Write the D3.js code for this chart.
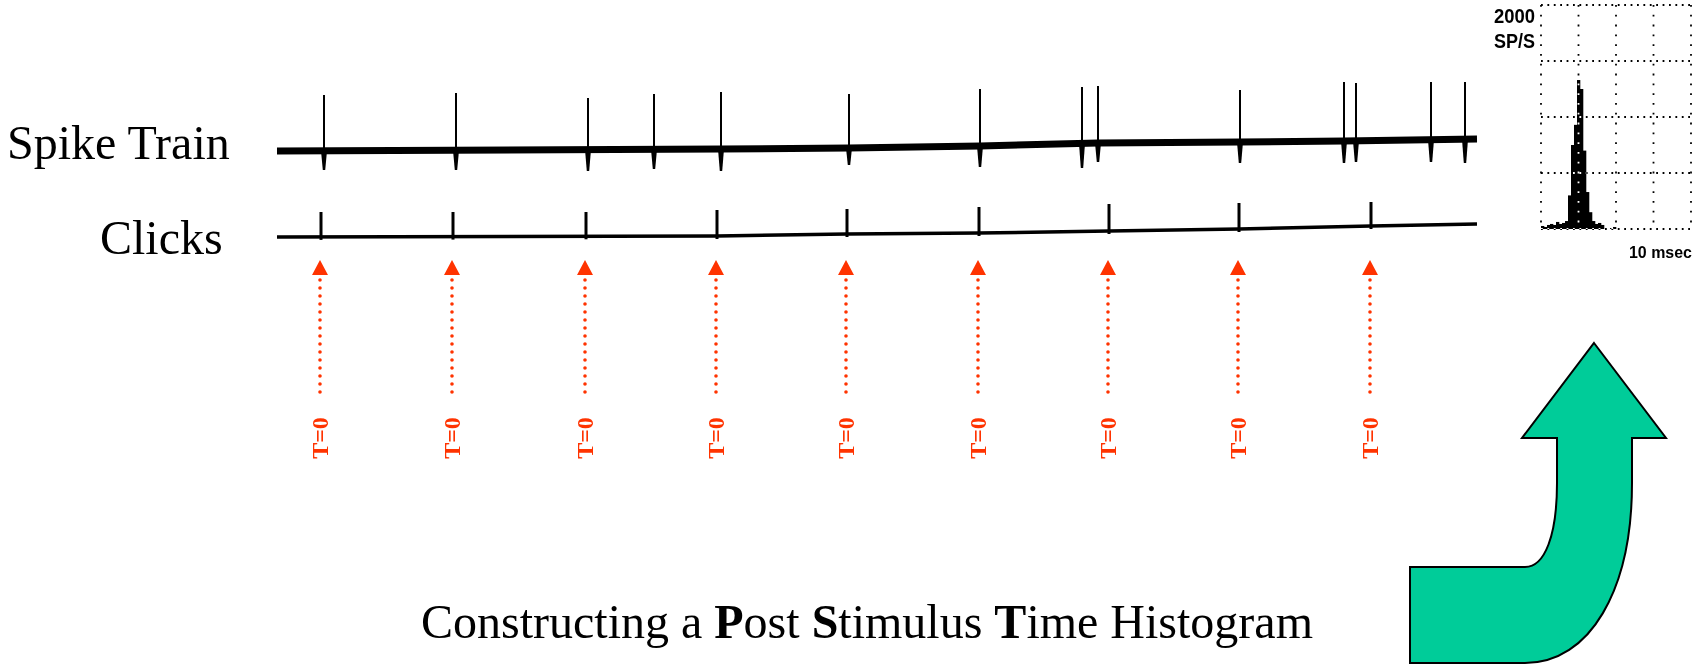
<!DOCTYPE html>
<html>
<head>
<meta charset="utf-8">
<script src="https://cdn.jsdelivr.net/npm/d3@7"></script>
<style>
  html, body { margin: 0; padding: 0; background: #fff; }
  svg { display: block; }
</style>
</head>
<body>
<svg id="chart" width="1695" height="667"></svg>
<script>
// ---- Recording: time in ms along the sweep ----
const sweepMs = [0, 1200];

// Click stimulus train
const clickTimes   = [44, 176, 309, 440, 570, 702, 832, 962, 1094];
const clickHeights = [38, 38, 38, 40, 41, 43, 46, 47, 48];
const clickBaseT   = [0, 440, 570, 702, 832, 962, 1094, 1200];
const clickBaseV   = [13, 14, 16, 17, 19, 21, 24, 26];

// Extracellular spike train
const spikeTimes   = [47, 179, 311, 377, 444, 572, 703, 805, 821, 963, 1067, 1079, 1154, 1188];
const spikePeaks   = [80, 82, 77, 81, 83, 81, 86, 88, 89, 85, 93, 92, 93, 93];
const spikeTroughs = [5, 5, 4, 6, 4, 10, 8, 7, 13, 12, 12, 13, 13, 12];
const traceBaseT   = [0, 444, 572, 703, 821, 963, 1067, 1200];
const traceBaseV   = [24, 26, 27, 29, 32, 33, 34, 36];

// Post-stimulus time histogram (0.2 ms bins, spikes/s)
const psthBinMs = 0.2;
const psthRates = [27, 18, 36, 45, 36, 63, 45, 54, 71, 300,
                   750, 930, 1330, 1250, 700, 330, 150, 71, 45, 54,
                   36, 0, 0, 9, 18, 0, 0, 0, 0, 0,
                   0, 0, 0, 0, 0, 0, 0, 0, 0, 0,
                   0, 0, 0, 0, 0, 0, 0, 0, 0, 0];
const psthXTicks = [0, 2.5, 5, 7.5, 10];
const psthYTicks = [0, 500, 1000, 1500, 2000];
const psthYLabel = ["2000", "SP/S"];
const psthXLabel = "10 msec";

const rowLabels = ["Spike Train", "Clicks"];
const markerLabel = "T=0";

const svg = d3.select("#chart");
svg.append("rect").attr("width", 1695).attr("height", 667).attr("fill", "#fff");

const RED = "#ff3300";
const GREEN = "#00cc99";
const SERIF = "'Liberation Serif', 'Times New Roman', serif";
const SANS = "'Liberation Sans', Arial, sans-serif";

// ---- scales ----
const x = d3.scaleLinear().domain(sweepMs).range([277, 1477]);
const ySpike = d3.scaleLinear().domain([0, 100]).range([175, 75]);
const yClick = d3.scaleLinear().domain([0, 50]).range([250, 200]);

const traceBase = d3.scaleLinear().domain(traceBaseT).range(traceBaseV);
const clickBase = d3.scaleLinear().domain(clickBaseT).range(clickBaseV);

const line = d3.line().x(d => x(d[0]));

// ---- spike train trace ----
const gSpike = svg.append("g");
gSpike.append("path")
  .attr("d", line.y(d => ySpike(d[1]))(traceBaseT.map((t, i) => [t, traceBaseV[i]])))
  .attr("fill", "none").attr("stroke", "#000").attr("stroke-width", 7);

const spikes = spikeTimes.map((t, i) => ({t, peak: spikePeaks[i], trough: spikeTroughs[i], base: traceBase(t)}));
gSpike.selectAll("line.up").data(spikes).join("line")
  .attr("class", "up")
  .attr("x1", d => x(d.t)).attr("x2", d => x(d.t))
  .attr("y1", d => ySpike(d.base)).attr("y2", d => ySpike(d.peak))
  .attr("stroke", "#000").attr("stroke-width", 2);
gSpike.selectAll("path.down").data(spikes).join("path")
  .attr("class", "down")
  .attr("d", d => {
    const cx = x(d.t), yb = ySpike(d.base), yt = ySpike(d.trough);
    return `M${cx - 3},${yb} L${cx + 3},${yb} L${cx + 1.2},${yt} L${cx - 1.2},${yt} Z`;
  })
  .attr("fill", "#000");

// ---- click trace ----
const gClick = svg.append("g");
gClick.append("path")
  .attr("d", line.y(d => yClick(d[1]))(clickBaseT.map((t, i) => [t, clickBaseV[i]])))
  .attr("fill", "none").attr("stroke", "#000").attr("stroke-width", 3.5);
const clicks = clickTimes.map((t, i) => ({t, h: clickHeights[i], base: clickBase(t)}));
gClick.selectAll("line.click").data(clicks).join("line")
  .attr("class", "click")
  .attr("x1", d => x(d.t)).attr("x2", d => x(d.t))
  .attr("y1", d => yClick(d.base) + 3).attr("y2", d => yClick(d.h))
  .attr("stroke", "#000").attr("stroke-width", 3);

// ---- row labels ----
svg.append("text").text(rowLabels[0])
  .attr("x", 7).attr("y", 159)
  .attr("font-family", SERIF).attr("font-size", 48).attr("fill", "#000");
svg.append("text").text(rowLabels[1])
  .attr("x", 100).attr("y", 254)
  .attr("font-family", SERIF).attr("font-size", 48).attr("fill", "#000");

// ---- T=0 markers under each click ----
const gMark = svg.append("g");
const marks = gMark.selectAll("g.mark").data(clickTimes).join("g")
  .attr("class", "mark")
  .attr("transform", d => `translate(${x(d) - 1},0)`);
marks.append("path")
  .attr("d", "M0,260 L8,275 L-8,275 Z")
  .attr("fill", RED);
marks.append("line")
  .attr("x1", 0).attr("x2", 0).attr("y1", 280).attr("y2", 394)
  .attr("stroke", RED).attr("stroke-width", 3.6)
  .attr("stroke-linecap", "round").attr("stroke-dasharray", "0 8");
marks.append("text")
  .text(markerLabel)
  .attr("transform", "translate(8,438) rotate(-90)")
  .attr("text-anchor", "middle")
  .attr("font-family", SERIF).attr("font-weight", "bold")
  .attr("font-size", 24).attr("fill", RED);

// ---- PSTH panel ----
const hx = d3.scaleLinear().domain([0, 10]).range([1541, 1691]);
const hy = d3.scaleLinear().domain([0, 2000]).range([229, 5]);
const gH = svg.append("g");
gH.selectAll("rect.bin").data(psthRates).join("rect")
  .attr("class", "bin")
  .attr("x", (d, i) => hx(i * psthBinMs))
  .attr("width", hx(psthBinMs) - hx(0) + 0.3)
  .attr("y", d => hy(d))
  .attr("height", d => hy(0) - hy(d))
  .attr("fill", "#000");

// dotted grid, inverted where it crosses the histogram
const gGrid = gH.append("g").style("mix-blend-mode", "difference");
gGrid.selectAll("line.h").data(psthYTicks).join("line")
  .attr("x1", hx(0)).attr("x2", hx(10))
  .attr("y1", d => hy(d)).attr("y2", d => hy(d))
  .attr("stroke", "#fff").attr("stroke-width", 1.8)
  .attr("stroke-dasharray", "1.8 4.6");
gGrid.selectAll("line.v").data(psthXTicks).join("line")
  .attr("x1", d => hx(d)).attr("x2", d => hx(d))
  .attr("y1", hy(2000)).attr("y2", hy(0))
  .attr("stroke", "#fff").attr("stroke-width", 1.8)
  .attr("stroke-dasharray", "1.8 8");

gH.append("text").text(psthYLabel[0])
  .attr("x", 1535).attr("y", 23).attr("text-anchor", "end")
  .attr("font-family", SANS).attr("font-weight", "bold").attr("font-size", 21)
  .attr("textLength", 41).attr("lengthAdjust", "spacingAndGlyphs");
gH.append("text").text(psthYLabel[1])
  .attr("x", 1535).attr("y", 48).attr("text-anchor", "end")
  .attr("font-family", SANS).attr("font-weight", "bold").attr("font-size", 21)
  .attr("textLength", 41).attr("lengthAdjust", "spacingAndGlyphs");
gH.append("text").text(psthXLabel)
  .attr("x", 1692).attr("y", 258).attr("text-anchor", "end")
  .attr("font-family", SANS).attr("font-weight", "bold").attr("font-size", 17)
  .attr("textLength", 63).attr("lengthAdjust", "spacingAndGlyphs");

// ---- curved green arrow pointing up to the histogram ----
const arrow = d3.path();
arrow.moveTo(1594, 343);
arrow.lineTo(1666, 438);
arrow.lineTo(1632, 438);
arrow.lineTo(1632, 483);
arrow.bezierCurveTo(1632, 590, 1590, 663, 1525, 663);
arrow.lineTo(1410, 663);
arrow.lineTo(1410, 567);
arrow.lineTo(1525, 567);
arrow.bezierCurveTo(1545, 567, 1557, 535, 1557, 483);
arrow.lineTo(1557, 438);
arrow.lineTo(1522, 438);
arrow.closePath();
svg.append("path").attr("d", arrow.toString())
  .attr("fill", GREEN).attr("stroke", "#000").attr("stroke-width", 2)
  .attr("stroke-linejoin", "miter");

// ---- caption ----
const cap = svg.append("text")
  .attr("x", 867).attr("y", 638).attr("text-anchor", "middle")
  .attr("font-family", SERIF).attr("font-size", 48).attr("fill", "#000");
[["Constructing a ", false], ["P", true], ["ost ", false], ["S", true],
 ["timulus ", false], ["T", true], ["ime Histogram", false]].forEach(([s, b]) => {
  cap.append("tspan").text(s).attr("font-weight", b ? "bold" : "normal");
});
</script>
</body>
</html>
